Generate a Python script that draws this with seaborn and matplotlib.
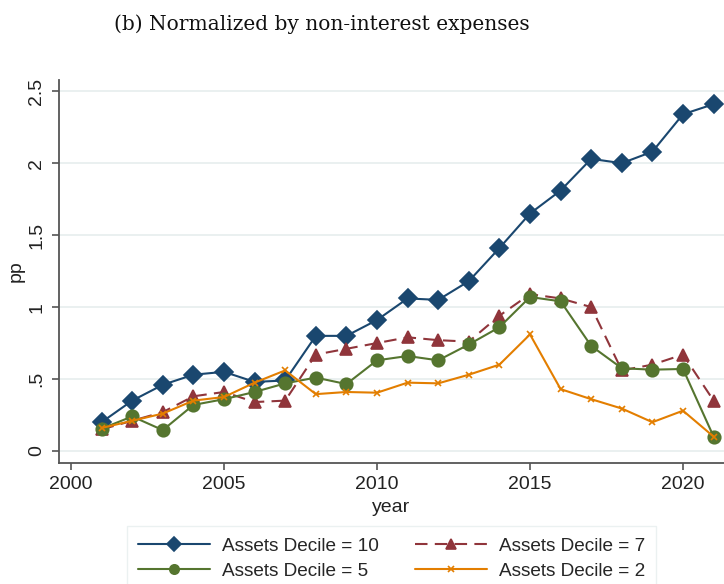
import numpy as np
import pandas as pd
import matplotlib
matplotlib.use("Agg")
import matplotlib.pyplot as plt
import seaborn as sns

years = list(range(2001, 2022))
decile10 = [0.20, 0.35, 0.46, 0.53, 0.55, 0.48, 0.49, 0.80, 0.80, 0.91, 1.06, 1.05, 1.18, 1.41, 1.65, 1.81, 2.03, 2.00, 2.08, 2.34, 2.41]
decile7 = [0.15, 0.21, 0.27, 0.38, 0.41, 0.34, 0.35, 0.67, 0.71, 0.75, 0.79, 0.77, 0.76, 0.94, 1.09, 1.06, 1.00, 0.56, 0.60, 0.67, 0.35]
decile5 = [0.155, 0.24, 0.145, 0.32, 0.36, 0.41, 0.47, 0.51, 0.465, 0.63, 0.66, 0.63, 0.74, 0.86, 1.07, 1.04, 0.73, 0.575, 0.565, 0.57, 0.10]
decile2 = [0.16, 0.21, 0.26, 0.35, 0.375, 0.475, 0.56, 0.395, 0.41, 0.405, 0.475, 0.47, 0.53, 0.60, 0.81, 0.43, 0.36, 0.295, 0.20, 0.28, 0.10]
labels = ["Assets Decile = 10", "Assets Decile = 7", "Assets Decile = 5", "Assets Decile = 2"]
yticks = [0, 0.5, 1, 1.5, 2, 2.5]
yticklabels = ["0", ".5", "1", "1.5", "2", "2.5"]
xticks = [2000, 2005, 2010, 2015, 2020]

df = pd.concat([
    pd.DataFrame({"year": years, "pp": decile10, "group": labels[0]}),
    pd.DataFrame({"year": years, "pp": decile7, "group": labels[1]}),
    pd.DataFrame({"year": years, "pp": decile5, "group": labels[2]}),
    pd.DataFrame({"year": years, "pp": decile2, "group": labels[3]}),
])

sns.set_style("white")
plt.rcParams["font.family"] = ["Liberation Sans", "DejaVu Sans"]

fig = plt.figure(figsize=(7.24, 5.84), dpi=100)
ax = fig.add_axes([59/724, (584-462.5)/584, (724-59)/724, (462.5-80)/584])

palette = {labels[0]: "#1a476f", labels[1]: "#90353b", labels[2]: "#55752f", labels[3]: "#e37e00"}
markers = {labels[0]: "D", labels[1]: "^", labels[2]: "o", labels[3]: "x"}
msize = {labels[0]: 9, labels[1]: 9, labels[2]: 9, labels[3]: 5}

for lab in labels:
    sub = df[df["group"] == lab]
    kw = {}
    if lab == labels[1]:
        kw["dashes"] = (6, 3.5)
    sns.lineplot(data=sub, x="year", y="pp", ax=ax, color=palette[lab],
                 marker=markers[lab], markersize=msize[lab], linewidth=1.5,
                 markeredgecolor=palette[lab], markeredgewidth=1.2,
                 label=lab, **kw)

ax.set_xlim(2000 - 12/30.6, 2000 + (724-71)/30.6)
ax.set_ylim(-0.08, 2.578)
ax.set_xticks(xticks)
ax.set_xticklabels([str(x) for x in xticks], fontsize=14, color="#222222")
ax.set_yticks(yticks)
ax.set_yticklabels(yticklabels, fontsize=14, rotation=90, va="center", color="#222222")
ax.grid(axis="y", color="#e6eeee", linewidth=1.2)
ax.set_axisbelow(True)
for s in ["top", "right"]:
    ax.spines[s].set_visible(False)
for s in ["left", "bottom"]:
    ax.spines[s].set_color("#555555")
    ax.spines[s].set_linewidth(1.3)
ax.tick_params(axis="both", direction="out", length=5, width=1.2, color="#555555", left=True, bottom=True, pad=5)
ax.set_xlabel("year", fontsize=14, labelpad=4, color="#222222")
ax.set_ylabel("pp", fontsize=14, color="#222222")
ax.yaxis.set_label_coords(-0.052, 0.5)

handles, lbls = ax.get_legend_handles_labels()
order = [0, 2, 1, 3]
if ax.get_legend():
    ax.get_legend().remove()
leg = fig.legend([handles[i] for i in order], [lbls[i] for i in order], ncol=2,
                 loc="upper left", bbox_to_anchor=(126.7/724, 1 - 526/584),
                 fontsize=13.7, frameon=True, edgecolor="#e6eeee", fancybox=False,
                 handlelength=3.8, columnspacing=1.9, handletextpad=0.6,
                 borderpad=0.6, labelspacing=0.4, borderaxespad=0, markerscale=0.75)
leg.get_frame().set_linewidth(1.0)

fig.text(322/724, 0.959, "(b) Normalized by non-interest expenses", ha="center", va="center",
         fontsize=14.5, family=["DejaVu Serif"], color="#111111")

fig.savefig("out.png", dpi=100, facecolor="white")
